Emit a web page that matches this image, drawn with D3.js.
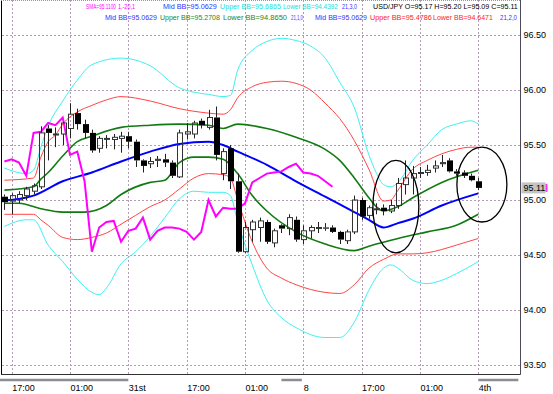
<!DOCTYPE html>
<html lang="en">
<head>
<meta charset="utf-8">
<title>USD/JPY H1</title>
<script src="https://cdn.jsdelivr.net/npm/d3@7"></script>
<style>
  body { margin: 0; background: #fff; }
  svg { display: block; font-family: "Liberation Sans", Arial, sans-serif; }
</style>
</head>
<body>
<script>

// hourly candles, index 0..65
var open = [95.03,94.99,95.00,95.04,95.08,95.12,95.65,95.60,95.60,95.65,
  95.79,95.69,95.61,95.47,95.56,95.55,95.56,95.58,95.53,95.36,
  95.33,95.36,95.37,95.34,95.21,95.60,95.60,95.72,95.66,95.75,
  95.24,95.47,95.17,94.53,94.73,94.75,94.80,94.61,94.77,94.74,
  94.82,94.64,94.72,94.75,94.75,94.75,94.71,94.63,94.71,95.00,
  94.86,94.92,94.93,94.90,94.95,95.14,95.20,95.25,95.25,95.29,
  95.33,95.36,95.26,95.25,95.22,95.17];
var high = [95.05,95.06,95.08,95.12,95.15,95.67,95.68,95.66,95.71,95.88,
  95.83,95.73,95.64,95.58,95.59,95.60,95.62,95.62,95.55,95.37,
  95.39,95.40,95.42,95.36,95.64,95.70,95.72,95.74,95.82,95.85,
  95.47,95.50,95.24,94.80,94.82,94.84,94.82,94.74,94.78,94.87,
  94.85,94.77,94.77,94.80,94.79,94.77,94.72,94.73,95.04,95.02,
  94.95,94.97,94.96,95.00,95.20,95.36,95.31,95.30,95.32,95.36,
  95.41,95.38,95.28,95.27,95.24,95.20];
var low = [94.91,94.87,94.97,95.00,95.05,95.10,95.36,95.48,95.50,95.56,
  95.64,95.56,95.43,95.43,95.47,95.46,95.43,95.47,95.30,95.25,
  95.29,95.30,95.30,95.20,95.20,95.55,95.56,95.65,95.64,95.36,
  95.18,95.10,94.52,94.52,94.62,94.62,94.60,94.57,94.70,94.68,
  94.62,94.60,94.65,94.70,94.72,94.70,94.60,94.60,94.69,94.82,
  94.83,94.87,94.86,94.88,94.92,95.05,95.05,95.20,95.22,95.25,
  95.30,95.25,95.22,95.20,95.17,95.09];
var close = [94.98,95.04,95.05,95.10,95.13,95.61,95.61,95.60,95.70,95.78,
  95.69,95.61,95.45,95.56,95.56,95.57,95.58,95.53,95.36,95.31,
  95.35,95.37,95.34,95.22,95.61,95.62,95.70,95.68,95.75,95.41,
  95.44,95.17,94.53,94.75,94.80,94.81,94.62,94.72,94.74,94.84,
  94.64,94.72,94.75,94.75,94.74,94.71,94.64,94.71,95.00,94.85,
  94.93,94.92,94.90,94.95,95.15,95.20,95.24,95.25,95.27,95.31,
  95.34,95.26,95.24,95.22,95.18,95.11];

// SMA(1) shifted -20 (magenta)
var lagSpan = [95.35,95.37,95.34,95.22,95.61,95.62,95.70,95.68,95.75,95.41,
  95.44,95.17,94.53,94.75,94.80,94.81,94.62,94.72,94.74,94.84,
  94.64,94.72,94.75,94.75,94.74,94.71,94.64,94.71,95.00,94.85,
  94.93,94.92,94.92,94.97,95.16,95.20,95.24,95.25,95.26,95.30,
  95.33,95.25,95.24,95.22,95.17,95.12];

// bollinger bands, [candle index, price]
var midBB = [[0,95.00],[2,95.01],[4,95.04],[8,95.17],[12,95.25],[16,95.35],[20,95.44],[24,95.51],
  [28,95.53],[30,95.50],[32,95.44],[36,95.32],[40,95.17],[44,95.03],[48,94.89],[50,94.82],
  [52,94.75],[54,94.79],[56,94.83],[60,94.95],[65,95.06]];
var upper1 = [[0,95.09],[4,95.12],[5,95.19],[6,95.25],[8,95.40],[10,95.53],[12,95.58],[16,95.66],
  [20,95.68],[24,95.69],[28,95.68],[30,95.65],[32,95.69],[36,95.65],[40,95.57],[44,95.46],
  [46,95.36],[48,95.20],[50,95.02],[51,94.94],[52,94.90],[54,94.94],[56,95.02],[60,95.16],[65,95.27]];
var lower1 = [[0,94.97],[2,94.97],[5,94.92],[8,94.89],[11,94.89],[14,94.95],[16,95.05],[20,95.16],
  [22,95.18],[24,95.34],[26,95.39],[28,95.39],[30,95.37],[32,95.24],[34,95.04],[36,94.90],
  [40,94.71],[44,94.60],[48,94.54],[50,94.58],[54,94.65],[58,94.71],[62,94.77],[65,94.87]];
var upper2 = [[0,95.18],[4,95.20],[5,95.39],[6,95.53],[7,95.59],[8,95.69],[10,95.80],[12,95.86],
  [14,95.91],[16,95.94],[20,95.90],[24,95.83],[28,95.79],[30,95.78],[31,95.82],[32,95.93],
  [34,96.03],[36,96.07],[38,96.08],[40,96.06],[42,96.00],[44,95.88],[46,95.74],[48,95.54],
  [50,95.28],[52,94.99],[53,95.00],[54,95.09],[56,95.28],[58,95.36],[60,95.42],[62,95.46],
  [64,95.48],[65,95.48]];
var lower2 = [[0,94.87],[4,94.87],[5,94.82],[6,94.77],[8,94.66],[10,94.64],[12,94.66],[14,94.70],
  [16,94.78],[18,94.86],[20,94.94],[22,95.00],[24,95.10],[26,95.20],[28,95.24],[30,95.23],
  [31,95.20],[32,95.00],[34,94.62],[36,94.38],[38,94.29],[40,94.23],[44,94.16],[46,94.15],
  [48,94.23],[50,94.38],[52,94.46],[54,94.51],[56,94.51],[58,94.52],[60,94.55],[62,94.59],[65,94.65]];
var upper3 = [[0,95.29],[3,95.24],[4,95.27],[5,95.48],[6,95.67],[8,95.90],[10,96.09],[12,96.23],
  [16,96.29],[20,96.22],[24,96.02],[26,95.98],[28,95.96],[30,95.94],[31,95.95],[32,96.18],
  [34,96.36],[36,96.44],[38,96.47],[40,96.45],[42,96.40],[44,96.29],[46,96.07],[48,95.84],
  [50,95.41],[51,95.25],[52,95.14],[53,95.12],[54,95.16],[56,95.36],[58,95.50],[60,95.64],
  [62,95.69],[64,95.72],[65,95.69]];
var lower3 = [[0,94.76],[3,94.82],[4,94.82],[6,94.59],[8,94.44],[10,94.28],[12,94.16],[13,94.14],
  [14,94.20],[16,94.42],[18,94.53],[20,94.67],[22,94.84],[24,95.01],[26,95.08],[28,95.07],
  [30,95.07],[31,95.04],[32,94.80],[34,94.41],[36,94.09],[38,93.93],[40,93.84],[44,93.75],
  [46,93.75],[48,93.89],[50,94.18],[52,94.38],[53,94.41],[54,94.38],[56,94.27],[58,94.24],
  [60,94.27],[62,94.33],[65,94.44]];

var priceTicks = [93.5, 94.0, 94.5, 95.0, 95.5, 96.0, 96.5];
var timeTicks = [1, 9, 17, 25, 33, 41, 49, 57, 65];
var timeLabels = ["17:00", "01:00", "31st", "17:00", "01:00", "8", "17:00", "01:00", "4th"];
var dayBars = [[-0.6, 17], [38, 40.8], [65, 70.5]];
var lastPrice = 95.11;

// hand drawn circles: centre (index, price), radii (candles, price)
var marks = [[53.7, 94.94, 3.15, 0.42], [65.5, 95.14, 3.43, 0.34]];

var legend1 = [["SMA=95.1100", "#ff00ff"], ["1,-20,1", "#ff00ff"], ["Mid BB=95.0629", "#3333ff"],
  ["Upper BB=95.6865", "#22dddd"], ["Lower BB=94.4392", "#22dddd"], ["21,3,0", "#3333ff"],
  ["USD/JPY O=95.17 H=95.20 L=95.09 C=95.11", "#000000"]];
var legend2 = [["Mid BB=95.0629", "#3333ff"], ["Upper BB=95.2708", "#228822"], ["Lower BB=94.8650", "#228822"],
  ["21,1,0", "#3333ff"], ["Mid BB=95.0629", "#3333ff"], ["Upper BB=95.4786", "#ff2222"],
  ["Lower BB=94.6471", "#ff2222"], ["21,2,0", "#3333ff"]];


var w = 553, h = 394;
var plotR = 520.5, plotB = 374.5;

var x = d3.scaleLinear().domain([0, 65]).range([4.4, 478.25]);
var y = d3.scaleLinear().domain([93.5, 96.5]).range([365, 35]);
function px(v) { return Math.round(v) + 0.5; }

var svg = d3.select("body").append("svg")
  .attr("width", w)
  .attr("height", h);

svg.append("rect").attr("width", w).attr("height", h).attr("fill", "#fff");

// grid
svg.selectAll("line.vg").data(timeTicks).enter().append("line")
  .attr("class", "vg")
  .attr("x1", function(d){ return px(x(d)); })
  .attr("x2", function(d){ return px(x(d)); })
  .attr("y1", 0).attr("y2", plotB)
  .attr("stroke", "#b49cb4").attr("stroke-dasharray", "2,2");

svg.selectAll("line.hg").data(priceTicks).enter().append("line")
  .attr("class", "hg")
  .attr("x1", 2).attr("x2", plotR)
  .attr("y1", function(d){ return px(y(d)); })
  .attr("y2", function(d){ return px(y(d)); })
  .attr("stroke", "#b49cb4").attr("stroke-dasharray", "2,2");

// bands
var band = d3.line()
  .x(function(d){ return x(d[0]); })
  .y(function(d){ return y(d[1]); })
  .curve(d3.curveMonotoneX);

var bandStyle = [
  [upper3, "#3ef0f0", 1], [lower3, "#3ef0f0", 1],
  [upper2, "#ff4444", 1], [lower2, "#ff4444", 1],
  [upper1, "#117a11", 1.6], [lower1, "#117a11", 1.6],
  [midBB, "#0000ff", 2]
];
svg.selectAll("path.band").data(bandStyle).enter().append("path")
  .attr("class", "band")
  .attr("d", function(d){ return band(d[0]); })
  .attr("fill", "none")
  .attr("stroke", function(d){ return d[1]; })
  .attr("stroke-width", function(d){ return d[2]; });

svg.append("path")
  .attr("d", d3.line().x(function(d, i){ return x(i); }).y(function(d){ return y(d); })(lagSpan))
  .attr("fill", "none")
  .attr("stroke", "#ff00ff")
  .attr("stroke-width", 2);

// candles
var candle = svg.selectAll("g.candle").data(d3.range(open.length)).enter().append("g")
  .attr("class", "candle");

candle.append("line")
  .attr("x1", function(i){ return px(x(i)); })
  .attr("x2", function(i){ return px(x(i)); })
  .attr("y1", function(i){ return y(high[i]); })
  .attr("y2", function(i){ return y(Math.max(open[i], close[i])); })
  .attr("stroke", "#222");
candle.append("line")
  .attr("x1", function(i){ return px(x(i)); })
  .attr("x2", function(i){ return px(x(i)); })
  .attr("y1", function(i){ return y(Math.min(open[i], close[i])); })
  .attr("y2", function(i){ return y(low[i]); })
  .attr("stroke", "#222");
candle.append("rect")
  .attr("x", function(i){ return Math.round(x(i)) - 2 + (close[i] >= open[i] ? 0.5 : 0); })
  .attr("y", function(i){ return y(Math.max(open[i], close[i])); })
  .attr("width", function(i){ return close[i] >= open[i] ? 5 : 6; })
  .attr("height", function(i){ return Math.max(1, y(Math.min(open[i], close[i])) - y(Math.max(open[i], close[i]))); })
  .attr("fill", function(i){ return close[i] >= open[i] ? "none" : "#000"; })
  .attr("stroke", function(i){ return close[i] >= open[i] ? "#333" : "none"; });

// circles drawn on the chart
svg.selectAll("ellipse").data(marks).enter().append("ellipse")
  .attr("cx", function(d){ return x(d[0]); })
  .attr("cy", function(d){ return y(d[1]); })
  .attr("rx", function(d){ return x(d[0] + d[2]) - x(d[0]); })
  .attr("ry", function(d){ return y(d[1] - d[3]) - y(d[1]); })
  .attr("fill", "none")
  .attr("stroke", "#000")
  .attr("stroke-width", 1.3);

// legend lines, narrow bitmap-like font: shrink width, keep height
var pos1 = [[86, 30], [118, 17], [163, 54], [220, 61], [283, 55], [342, 15], [373, 145]];
var pos2 = [[105, 52], [160, 60], [223, 64], [291, 12], [315, 52], [370, 62], [433, 60], [500, 17]];

function fitText(sel, x0, y0, target, size) {
  sel.attr("font-size", size);
  var natural = sel.node().getComputedTextLength();
  var fs = size * Math.min(1, target / natural);
  sel.attr("font-size", fs)
    .attr("transform", "translate(" + x0 + "," + y0 + ") scale(1," + (size / fs) + ")");
}

function legendRow(items, pos, yy) {
  items.forEach(function(d, i) {
    var t = svg.append("text")
      .attr("fill", d[1])
      .text(d[0]);
    fitText(t, pos[i][0], yy, pos[i][1], 8);
  });
}
legendRow(legend1, pos1, 9);
legendRow(legend2, pos2, 20);

// frame
svg.append("line").attr("x1", 1.5).attr("x2", 1.5).attr("y1", 0).attr("y2", plotB).attr("stroke", "#000");
svg.append("line").attr("x1", plotR).attr("x2", plotR).attr("y1", 0).attr("y2", plotB).attr("stroke", "#4a4a5a");
svg.append("line").attr("x1", 1).attr("x2", plotR).attr("y1", plotB).attr("y2", plotB).attr("stroke", "#333");
svg.append("line").attr("x1", 1).attr("x2", plotR).attr("y1", 0.5).attr("y2", 0.5)
  .attr("stroke", "#9a90aa").attr("stroke-dasharray", "1,1");

// price axis
var yAxis = svg.append("g")
  .attr("transform", "translate(" + plotR + ",0)")
  .call(d3.axisRight(y).tickValues(priceTicks).tickFormat(d3.format(".2f")).tickSize(0).tickPadding(3));
yAxis.select(".domain").remove();
yAxis.selectAll("text")
  .attr("font-family", "Liberation Sans, Arial, sans-serif")
  .attr("font-size", 9)
  .attr("fill", "#000");

var tag = svg.append("g").attr("transform", "translate(" + (plotR + 1) + "," + y(lastPrice) + ")");
tag.append("rect").attr("x", 0).attr("y", -5.5).attr("width", 24).attr("height", 11).attr("fill", "#c4c4c4");
tag.append("rect").attr("x", 24).attr("y", -4).attr("width", 2).attr("height", 8).attr("fill", "#ff33ff");
tag.append("text").attr("x", 2).attr("y", 3.5).attr("font-size", 9).attr("fill", "#000").text(d3.format(".2f")(lastPrice));

// time axis
svg.selectAll("line.day").data(dayBars).enter().append("line")
  .attr("class", "day")
  .attr("x1", function(d){ return x(d[0]); })
  .attr("x2", function(d){ return x(d[1]); })
  .attr("y1", 380).attr("y2", 380)
  .attr("stroke", "#8c8c94")
  .attr("stroke-width", 2.5);

var xAxis = svg.append("g")
  .attr("transform", "translate(0," + plotB + ")")
  .call(d3.axisBottom(x).tickValues(timeTicks).tickFormat(function(d, i){ return timeLabels[i]; }).tickSize(0));
xAxis.select(".domain").remove();
xAxis.selectAll("text")
  .attr("text-anchor", "start")
  .attr("dy", null)
  .attr("y", 16.5)
  .attr("font-family", "Liberation Sans, Arial, sans-serif")
  .attr("font-size", 9)
  .attr("fill", "#000");

</script>
</body>
</html>
